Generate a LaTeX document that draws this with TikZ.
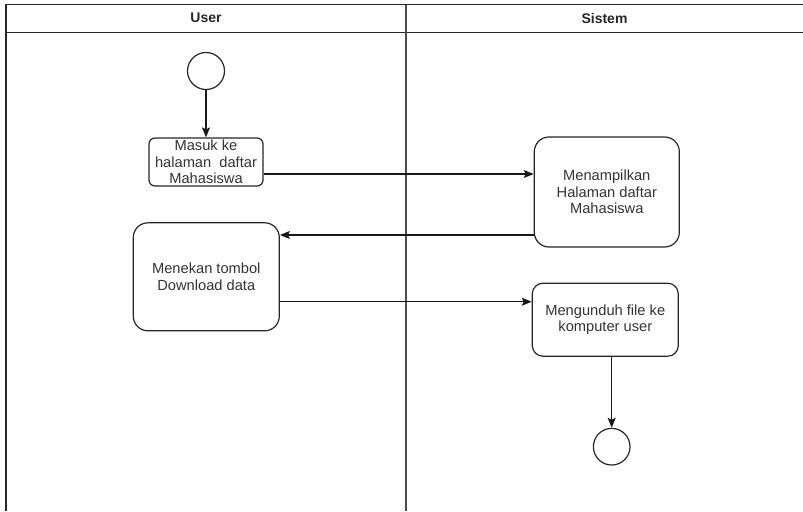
\documentclass[tikz,border=0pt]{standalone}
\usepackage{fontspec}
\setmainfont{Liberation Sans}
\usetikzlibrary{arrows.meta}
\definecolor{txt}{HTML}{333333}
\tikzset{
  px/.style={x=0.75pt,y=-0.75pt},
  act/.style={draw=black!85,line width=0.9pt,fill=white,align=center,inner sep=0pt,
    font=\fontsize{11}{12.5}\selectfont,text=txt},
  endpt/.style={draw=black!85,line width=0.9pt,circle,fill=white,inner sep=0pt},
  arr/.style={line width=0.9pt,draw=black!90,-{Stealth[length=7.5pt,width=6pt,inset=1.5pt]}},
  lane/.style={line width=1.15pt,draw=black!85},
  hdr/.style={font=\bfseries\fontsize{10.5}{12}\selectfont,text=black!85}
}
\begin{document}
\begin{tikzpicture}[px]
\useasboundingbox (0,0) rectangle (803,511);
% swimlanes
\draw[lane] (5,4.5) -- (803,4.5);
\draw[lane] (5,32.5) -- (803,32.5);
\draw[lane] (6,4.5) -- (6,511);
\draw[lane,draw=black!70] (406,4.5) -- (406,511);
\node[hdr] (hUser) at (206,18) {User};
\node[hdr] (hSis) at (604.5,18) {Sistem};
% nodes
\node[endpt,minimum size=27.75pt] (start) at (206,71) {};
\node[act,rounded corners=4.5pt,minimum width=85.5pt,minimum height=36pt] (b1) at (206,162)
  {Masuk ke\\halaman\ \ daftar\\Mahasiswa};
\node[act,rounded corners=11pt,minimum width=108.75pt,minimum height=82.5pt] (b2) at (606.8,192)
  {Menampilkan\\Halaman daftar\\Mahasiswa};
\node[act,rounded corners=11pt,minimum width=109.5pt,minimum height=81pt] (b3) at (206.3,276.8)
  {Menekan tombol\\Download data};
\node[act,rounded corners=8pt,minimum width=109.5pt,minimum height=54.75pt] (b4) at (605.3,319.7)
  {Mengunduh file ke\\komputer user};
\node[endpt,minimum size=27.5pt] (end) at (611.7,446.7) {};
% connectors
\draw[arr] (start.south) -- (b1.north);
\draw[arr] ([yshift=-9pt]b1.east) -- ([yshift=-9pt]b1.east -| b2.west);
\draw[arr] ([yshift=-32.25pt]b2.west) -- ([yshift=-32.25pt]b2.west -| b3.east);
\draw[arr] ([yshift=-18.7pt]b3.east) -- ([yshift=-18.7pt]b3.east -| b4.west);
\draw[arr] (b4.south -| end) -- (end.north);
\end{tikzpicture}
\end{document}
